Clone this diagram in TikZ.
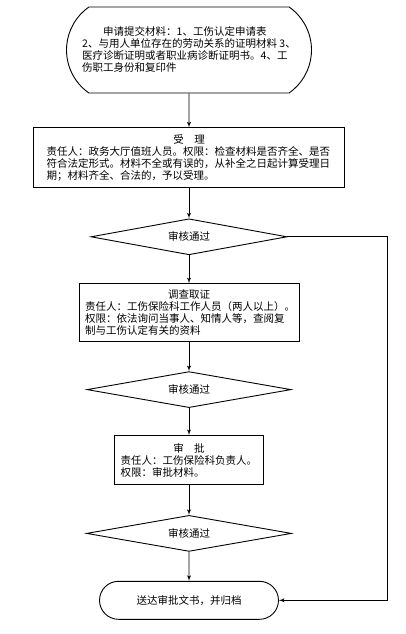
\documentclass[tikz,border=0pt]{standalone}
\usepackage{fontspec}
\setmainfont{Noto Sans CJK SC}
\usetikzlibrary{arrows, shapes.geometric, shapes.misc, positioning}

\begin{document}
\begin{tikzpicture}[->, >=latex', line width=0.9pt, x=1pt, y=1pt, node distance=29pt,
  every node/.style={font=\fontsize{10.5}{12}\selectfont},
  terminal/.style={draw, rounded rectangle, align=left, inner sep=0pt},
  process/.style={draw, rectangle, align=left, inner ysep=3pt},
  check/.style={draw, diamond, aspect=5, minimum width=200pt, minimum height=36pt, inner sep=0pt}]
\useasboundingbox (0,0) rectangle (406,-634);
\node[terminal, minimum width=245pt, minimum height=86pt, rounded rectangle arc length=110](apply) at (189,-50){\hspace*{2em}申请提交材料：1、工伤认定申请表\\2、与用人单位存在的劳动关系的证明材料 3、\\医疗诊断证明或者职业病诊断证明书。4、工\\伤职工身份和复印件};
\node[process, text width=285pt, inner xsep=13pt, minimum height=60pt](accept)[below=34pt of apply]{{\centering 受\quad 理\par}责任人：政务大厅值班人员。权限：检查材料是否齐全、是否\\符合法定形式。材料不全或有误的，从补全之日起计算受理日\\期；材料齐全、合法的，予以受理。};
\node[check, minimum width=196pt](pass1)[below=30pt of accept]{审核通过};
\node[process, text width=208pt, inner xsep=6pt, minimum height=58pt](survey)[below=28pt of pass1]{{\centering 调查取证\par}责任人：工伤保险科工作人员（两人以上）。\\权限：依法询问当事人、知情人等，查阅复\\制与工伤认定有关的资料};
\node[check, minimum width=204pt](pass2)[below=29pt of survey]{审核通过};
\node[process, text width=137pt, inner xsep=6pt, minimum height=49pt](approve)[below=27pt of pass2]{{\centering 审\quad 批\par}责任人：工伤保险科负责人。\\权限：审批材料。};
\node[check, minimum width=205pt](pass3)[below=30pt of approve]{审核通过};
\node[terminal, minimum width=179pt, minimum height=38pt](archive)[below=29pt of pass3]{送达审批文书，并归档};
\coordinate[right=100pt of pass1.east](side);
\draw (apply) -- (accept);
\draw (accept) -- (pass1);
\draw (pass1) -- (survey);
\draw (survey) -- (pass2);
\draw (pass2) -- (approve);
\draw (approve) -- (pass3);
\draw (pass3) -- (archive);
\draw (pass1.east) -- (side) |- (archive.east);
\end{tikzpicture}
\end{document}
